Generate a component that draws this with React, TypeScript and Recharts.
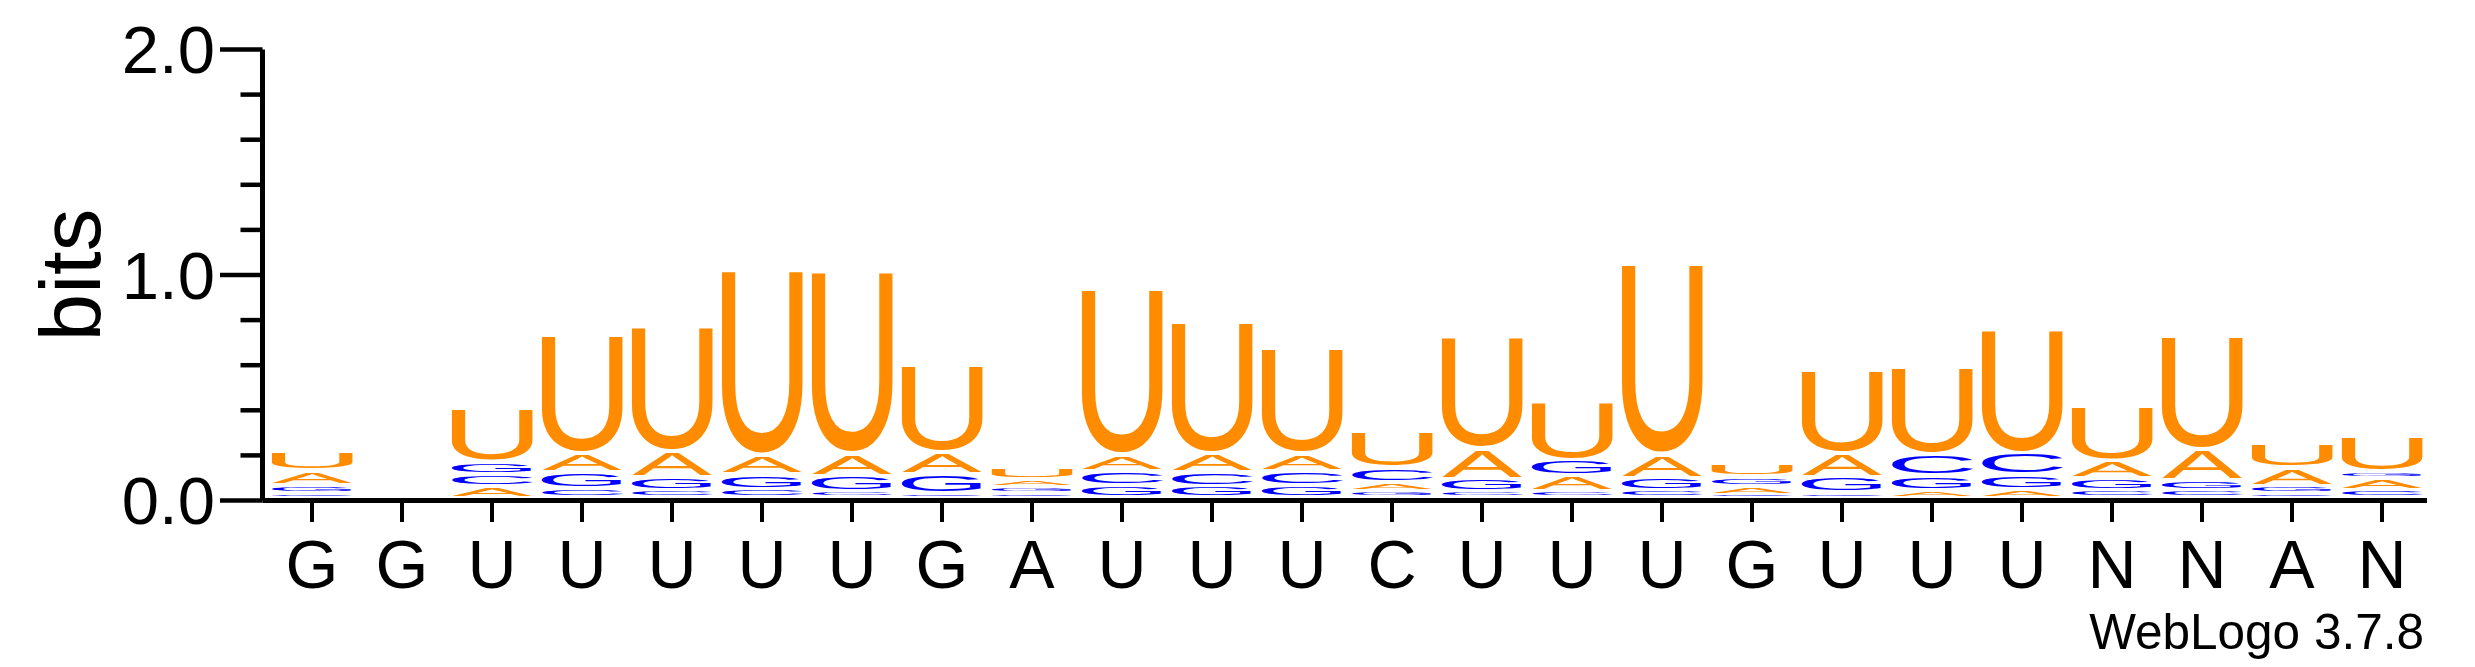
import React from 'react';
import { BarChart, Bar, XAxis, YAxis } from 'recharts';

// sequence positions (x tick labels)
const positions = ['G', 'G', 'U', 'U', 'U', 'U', 'U', 'G', 'A', 'U', 'U', 'U', 'C', 'U', 'U', 'U', 'G', 'U', 'U', 'U', 'N', 'N', 'A', 'N'];

// information content (bits) of each letter at each position
const uBits = [0.088, 0, 0.234, 0.525, 0.552, 0.82, 0.806, 0.384, 0.051, 0.735, 0.581, 0.467, 0.162, 0.498, 0.26, 0.843, 0.059, 0.368, 0.389, 0.545, 0.242, 0.502, 0.109, 0.155];
const aBits = [0.064, 0, 0.05, 0.083, 0.113, 0.086, 0.099, 0.094, 0.035, 0.07, 0.084, 0.074, 0.038, 0.131, 0.068, 0.104, 0.038, 0.108, 0.034, 0.038, 0.078, 0.135, 0.08, 0.051];
const gBits = [0.037, 0, 0.055, 0.072, 0.058, 0.064, 0.067, 0.088, 0.026, 0.055, 0.05, 0.054, 0.03, 0.057, 0.07, 0.056, 0.043, 0.067, 0.063, 0.063, 0.053, 0.046, 0.034, 0.03];
const cBits = [0.019, 0, 0.054, 0.041, 0.033, 0.038, 0.028, 0.018, 0.019, 0.064, 0.063, 0.064, 0.065, 0.026, 0.03, 0.032, 0.013, 0.022, 0.092, 0.098, 0.033, 0.033, 0.019, 0.035];

// stacking order, bottom to top
const stackOrder = ['CGAU', 'ACGU', 'ACGU', 'CGAU', 'CGAU', 'CGAU', 'CGAU', 'CGAU', 'CGAU', 'GCAU', 'GCAU', 'GCAU', 'GACU', 'CGAU', 'CAGU', 'CGAU', 'CAGU', 'CGAU', 'AGCU', 'AGCU', 'CGAU', 'CGAU', 'CGAU', 'CAGU'];

const yTicks = [0, 0.2, 0.4, 0.6, 0.8, 1.0, 1.2, 1.4, 1.6, 1.8, 2.0];
const yLabelTicks = [0, 1, 2];

const bitsByLetter: Record<string, number[]> = { U: uBits, A: aBits, G: gBits, C: cBits };

const data = positions.map((label, i) => {
  const order = stackOrder[i].split('');
  const row: any = { label, order };
  order.forEach((l, k) => { row['r' + k] = bitsByLetter[l][i]; });
  return row;
});

const FONT = '"Liberation Sans", Arial, Helvetica, sans-serif';
const COLORS: Record<string, string> = { U: '#ff8c00', A: '#ff8c00', G: '#0000ff', C: '#0000ff' };
// ink box of each glyph at font-size 100 (Liberation Sans)
const INK: Record<string, { x0: number; x1: number; y0: number; y1: number }> = {
  A: { x0: -0.15, x1: 66.85, y0: 0, y1: 68.8 },
  C: { x0: 4.88, x1: 67.53, y0: -1.2, y1: 70.0 },
  G: { x0: 5.27, x1: 71.58, y0: -1.2, y1: 70.0 },
  U: { x0: 7.71, x1: 64.16, y0: -1.2, y1: 68.8 },
};

const PLOT_BOTTOM = 500.5;
const AXIS_X = 262.5;
const LIFT = 3;

function letterShape(props: any, rank: number) {
  const { x, y, width, height, payload } = props;
  if (!height || height < 0.3) return <g />;
  const letter = payload.order[rank];
  const m = INK[letter];
  const pad = Math.min(2, height * 0.36);
  const top = y + pad - LIFT;
  const bottom = y + height - pad - LIFT;
  const sx = width / (m.x1 - m.x0);
  const sy = (bottom - top) / (m.y1 - m.y0);
  const tx = x - m.x0 * sx;
  const ty = bottom + m.y0 * sy;
  return (
    <text transform={`translate(${tx},${ty}) scale(${sx},${sy})`} fontSize={100} fontFamily={FONT} fill={COLORS[letter]}>
      {letter}
    </text>
  );
}

const XTick = (props: any) => {
  const { x, payload } = props;
  return (
    <g>
      <line x1={x} x2={x} y1={PLOT_BOTTOM} y2={522} stroke="#000" strokeWidth={4} />
      <text x={x} y={588} textAnchor="middle" fontSize={68} fontFamily={FONT} fill="#000">
        {payload.value}
      </text>
    </g>
  );
};

const YTick = (props: any) => {
  const { y, payload } = props;
  const major = yLabelTicks.includes(Math.round(payload.value * 10) / 10);
  return (
    <g>
      <line x1={major ? 220 : 240.5} x2={AXIS_X} y1={y} y2={y} stroke="#000" strokeWidth={4.5} />
      {major && (
        <text x={215} y={y + 23.5} textAnchor="end" fontSize={67} fontFamily={FONT} fill="#000">
          {payload.value.toFixed(1)}
        </text>
      )}
    </g>
  );
};

export default function App() {
  return (
    <div style={{ position: 'absolute', left: 0, top: 0, background: '#fff' }}>
      <BarChart width={2475} height={667} data={data} margin={{ top: 49.5, right: 48, bottom: 0, left: 0 }} barSize={80}>
        <XAxis
          dataKey="label"
          height={166.5}
          padding={{ left: 4.5, right: 0 }}
          interval={0}
          tickLine={false}
          tickSize={0}
          tick={<XTick />}
          axisLine={{ stroke: '#000', strokeWidth: 5 }}
          label={{
            content: () => (
              <text x={2424} y={649} textAnchor="end" fontSize={49.5} fontFamily={FONT} fill="#000">
                WebLogo 3.7.8
              </text>
            ),
          }}
        />
        <YAxis
          width={AXIS_X}
          domain={[0, 2]}
          ticks={yTicks}
          interval={0}
          tickLine={false}
          tickSize={0}
          tick={<YTick />}
          axisLine={{ stroke: '#000', strokeWidth: 5 }}
          label={{
            content: () => (
              <text transform="translate(100,275) rotate(-90)" textAnchor="middle" fontSize={85} fontFamily={FONT} fill="#000">
                bits
              </text>
            ),
          }}
        />
        {[0, 1, 2, 3].map((k) => (
          <Bar key={k} dataKey={'r' + k} stackId="s" isAnimationActive={false} shape={(p: any) => letterShape(p, k)} />
        ))}
      </BarChart>
    </div>
  );
}
